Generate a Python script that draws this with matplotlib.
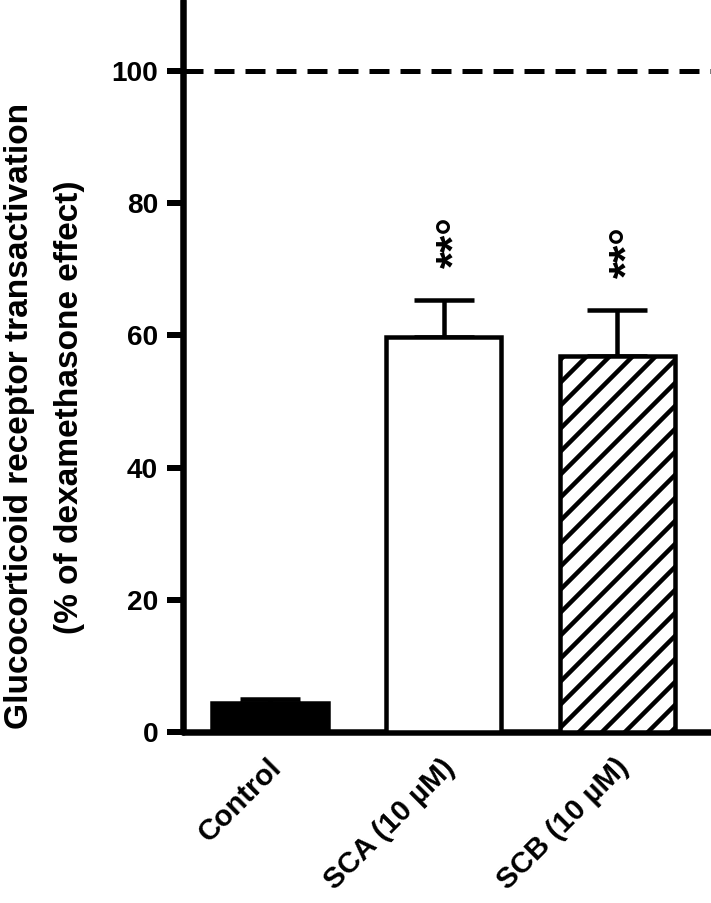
import matplotlib
matplotlib.use("Agg")
import matplotlib.pyplot as plt
import matplotlib.transforms as mtransforms
import numpy as np

DPI = 138


def px(v):
    # pixel size -> points at this dpi
    return v * 72 / DPI


groups = ["Control", "SCA (10 \u00b5M)", "SCB (10 \u00b5M)"]
means = [4.4, 59.8, 56.9]
errs = [0.6, 5.6, 6.9]
marks = ["", "**\u00b0", "**\u00b0"]
face = ["black", "white", "white"]
hatches = [None, None, "//"]
yticks = [0, 20, 40, 60, 80, 100]
ref_line = 100

plt.rcParams["font.family"] = ["Liberation Sans", "DejaVu Sans"]
plt.rcParams["font.weight"] = "bold"
plt.rcParams["hatch.linewidth"] = px(4.5)

fig = plt.figure(figsize=(711 / DPI, 903 / DPI), dpi=DPI)
ax = fig.add_axes([183 / 711, 1 - 732 / 903, 1 - 183 / 711, 732 / 903])

x = np.arange(len(groups))
bars = ax.bar(x, means, width=0.665, color=face, edgecolor="black",
              linewidth=px(4.5), zorder=3)
for b, h in zip(bars, hatches):
    if h:
        b.set_hatch(h)

ax.errorbar(x, means, yerr=[np.zeros(len(errs)), errs], fmt="none",
            ecolor="black", elinewidth=px(4.5), capsize=px(30),
            capthick=px(4.5), zorder=2)

ax.axhline(ref_line, color="black", lw=px(5), dashes=(4.0, 2.2),
           dash_capstyle="butt", zorder=1)

# significance marks above error bars
up = mtransforms.offset_copy(ax.transData, fig=fig, x=px(12), y=px(32), units="points")
for xi, m, e, s in zip(x, means, errs, marks):
    if s:
        ax.text(xi, m + e, s, rotation=90, ha="center", va="bottom",
                fontsize=px(44), fontweight="bold", transform=up)

# rotated category labels
lab = mtransforms.offset_copy(ax.get_xaxis_transform(), fig=fig, x=px(13), y=-px(37), units="points")
for xi, g in zip(x, groups):
    ax.text(xi, 0, g, rotation=45, ha="right", va="baseline", rotation_mode="anchor",
            fontsize=px(29.5), fontweight="bold", transform=lab)

ax.set_xlim(-0.501, 2.54)
ax.set_ylim(0, 110.7)
ax.set_yticks(yticks)
ax.set_xticks([])
ax.tick_params(axis="y", direction="out", length=px(16), width=px(6),
               pad=px(9), labelsize=px(28))
for t in ax.get_yticklabels():
    t.set_fontweight("bold")

for s in ["top", "right"]:
    ax.spines[s].set_visible(False)
for s in ["left", "bottom"]:
    ax.spines[s].set_linewidth(px(6.5))
    ax.spines[s].set_capstyle("round")

fig.text(20 / 711, 1 - 416 / 903, "Glucocorticoid receptor transactivation",
         rotation=90, ha="center", va="center", fontsize=px(33.5), fontweight="bold")
fig.text(70 / 711, 1 - 407 / 903, "(% of dexamethasone effect)",
         rotation=90, ha="center", va="center", fontsize=px(33.5), fontweight="bold")

fig.savefig("out.png", dpi=DPI)
